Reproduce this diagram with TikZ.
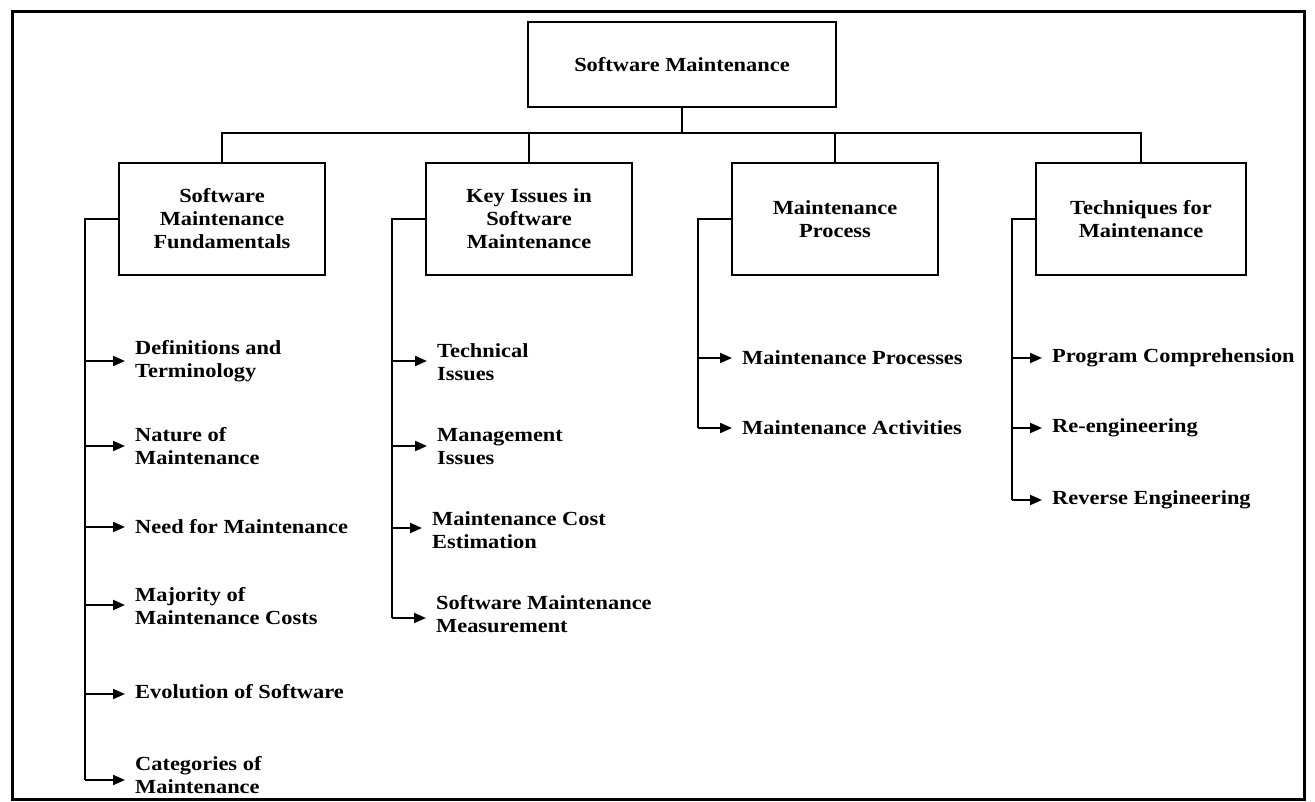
\documentclass[tikz,border=0pt]{standalone}
\usepackage{fontspec}
\setmainfont{Liberation Serif}[FakeStretch=1.12]
\usetikzlibrary{arrows.meta}
\begin{document}
\begin{tikzpicture}[x=1pt,y=-1pt,
  txt/.style={font=\fontsize{20}{23}\selectfont\bfseries},
  box/.style={draw, line width=2pt, minimum width=206pt, minimum height=112pt, align=center, txt, inner sep=0pt},
  leaf/.style={anchor=west, align=left, txt, inner xsep=10pt, inner ysep=0pt},
  wire/.style={line width=2pt},
  arr/.style={wire, -{Triangle[length=12pt,width=10pt]}}
]
\useasboundingbox (0,0) rectangle (1315,802);
\draw[line width=3pt] (12,12) rectangle (1304,799);

% boxes
\node[box, minimum width=308pt, minimum height=85pt] (root) at (682,64.5) {Software Maintenance};
\node[box] (b1) at (222,219) {Software\\Maintenance\\Fundamentals};
\node[box] (b2) at (529,219) {Key Issues in\\Software\\Maintenance};
\node[box] (b3) at (835,219) {Maintenance\\Process};
\node[box, minimum width=210pt] (b4) at (1141,219) {Techniques for\\Maintenance};

% bus
\coordinate (bus) at (682,133);
\draw[wire] (root.south) -- (bus);
\draw[wire] (b1.north) -- (b1.north |- bus) -- (b4.north |- bus) -- (b4.north);
\draw[wire] (b2.north) -- (b2.north |- bus);
\draw[wire] (b3.north) -- (b3.north |- bus);

% column 1
\node[leaf] (l11) at (125,361) {Definitions and\\Terminology};
\node[leaf] (l12) at (125,446.5) {Nature of\\Maintenance};
\node[leaf] (l13) at (125,527) {Need for Maintenance};
\node[leaf] (l14) at (125,606.5) {Majority of\\Maintenance Costs};
\node[leaf] (l15) at (125,692) {Evolution of Software};
\node[leaf] (l16) at (125,775) {Categories of\\Maintenance};
\coordinate (c11) at (85,361);
\coordinate (c12) at (85,446);
\coordinate (c13) at (85,527);
\coordinate (c14) at (85,605);
\coordinate (c15) at (85,694);
\coordinate (c16) at (85,780);
\draw[wire] (b1.west) -| (c16);
\foreach \i in {1,...,6} {\draw[arr] (c1\i) -- (c1\i -| l1\i.west);}

% column 2
\node[leaf] (l21) at (427,362) {Technical\\Issues};
\node[leaf] (l22) at (427,446.5) {Management\\Issues};
\node[leaf] (l23) at (422,530) {Maintenance Cost\\Estimation};
\node[leaf] (l24) at (426,614) {Software Maintenance\\Measurement};
\coordinate (c21) at (392,361);
\coordinate (c22) at (392,446);
\coordinate (c23) at (392,528);
\coordinate (c24) at (392,618);
\draw[wire] (b2.west) -| (c24);
\foreach \i in {1,...,4} {\draw[arr] (c2\i) -- (c2\i -| l2\i.west);}

% column 3
\node[leaf] (l31) at (732,358) {Maintenance Processes};
\node[leaf] (l32) at (732,428) {Maintenance Activities};
\coordinate (c31) at (698,358);
\coordinate (c32) at (698,428);
\draw[wire] (b3.west) -| (c32);
\foreach \i in {1,2} {\draw[arr] (c3\i) -- (c3\i -| l3\i.west);}

% column 4
\node[leaf] (l41) at (1042,358) {Program Comprehension};
\node[leaf] (l42) at (1042,428) {Re-engineering};
\node[leaf] (l43) at (1042,500) {Reverse Engineering};
\coordinate (c41) at (1012,358);
\coordinate (c42) at (1012,428);
\coordinate (c43) at (1012,500);
\draw[wire] (b4.west) -| (c43);
\foreach \i in {1,2,3} {\draw[arr] (c4\i) -- (c4\i -| l4\i.west);}
\end{tikzpicture}
\end{document}
